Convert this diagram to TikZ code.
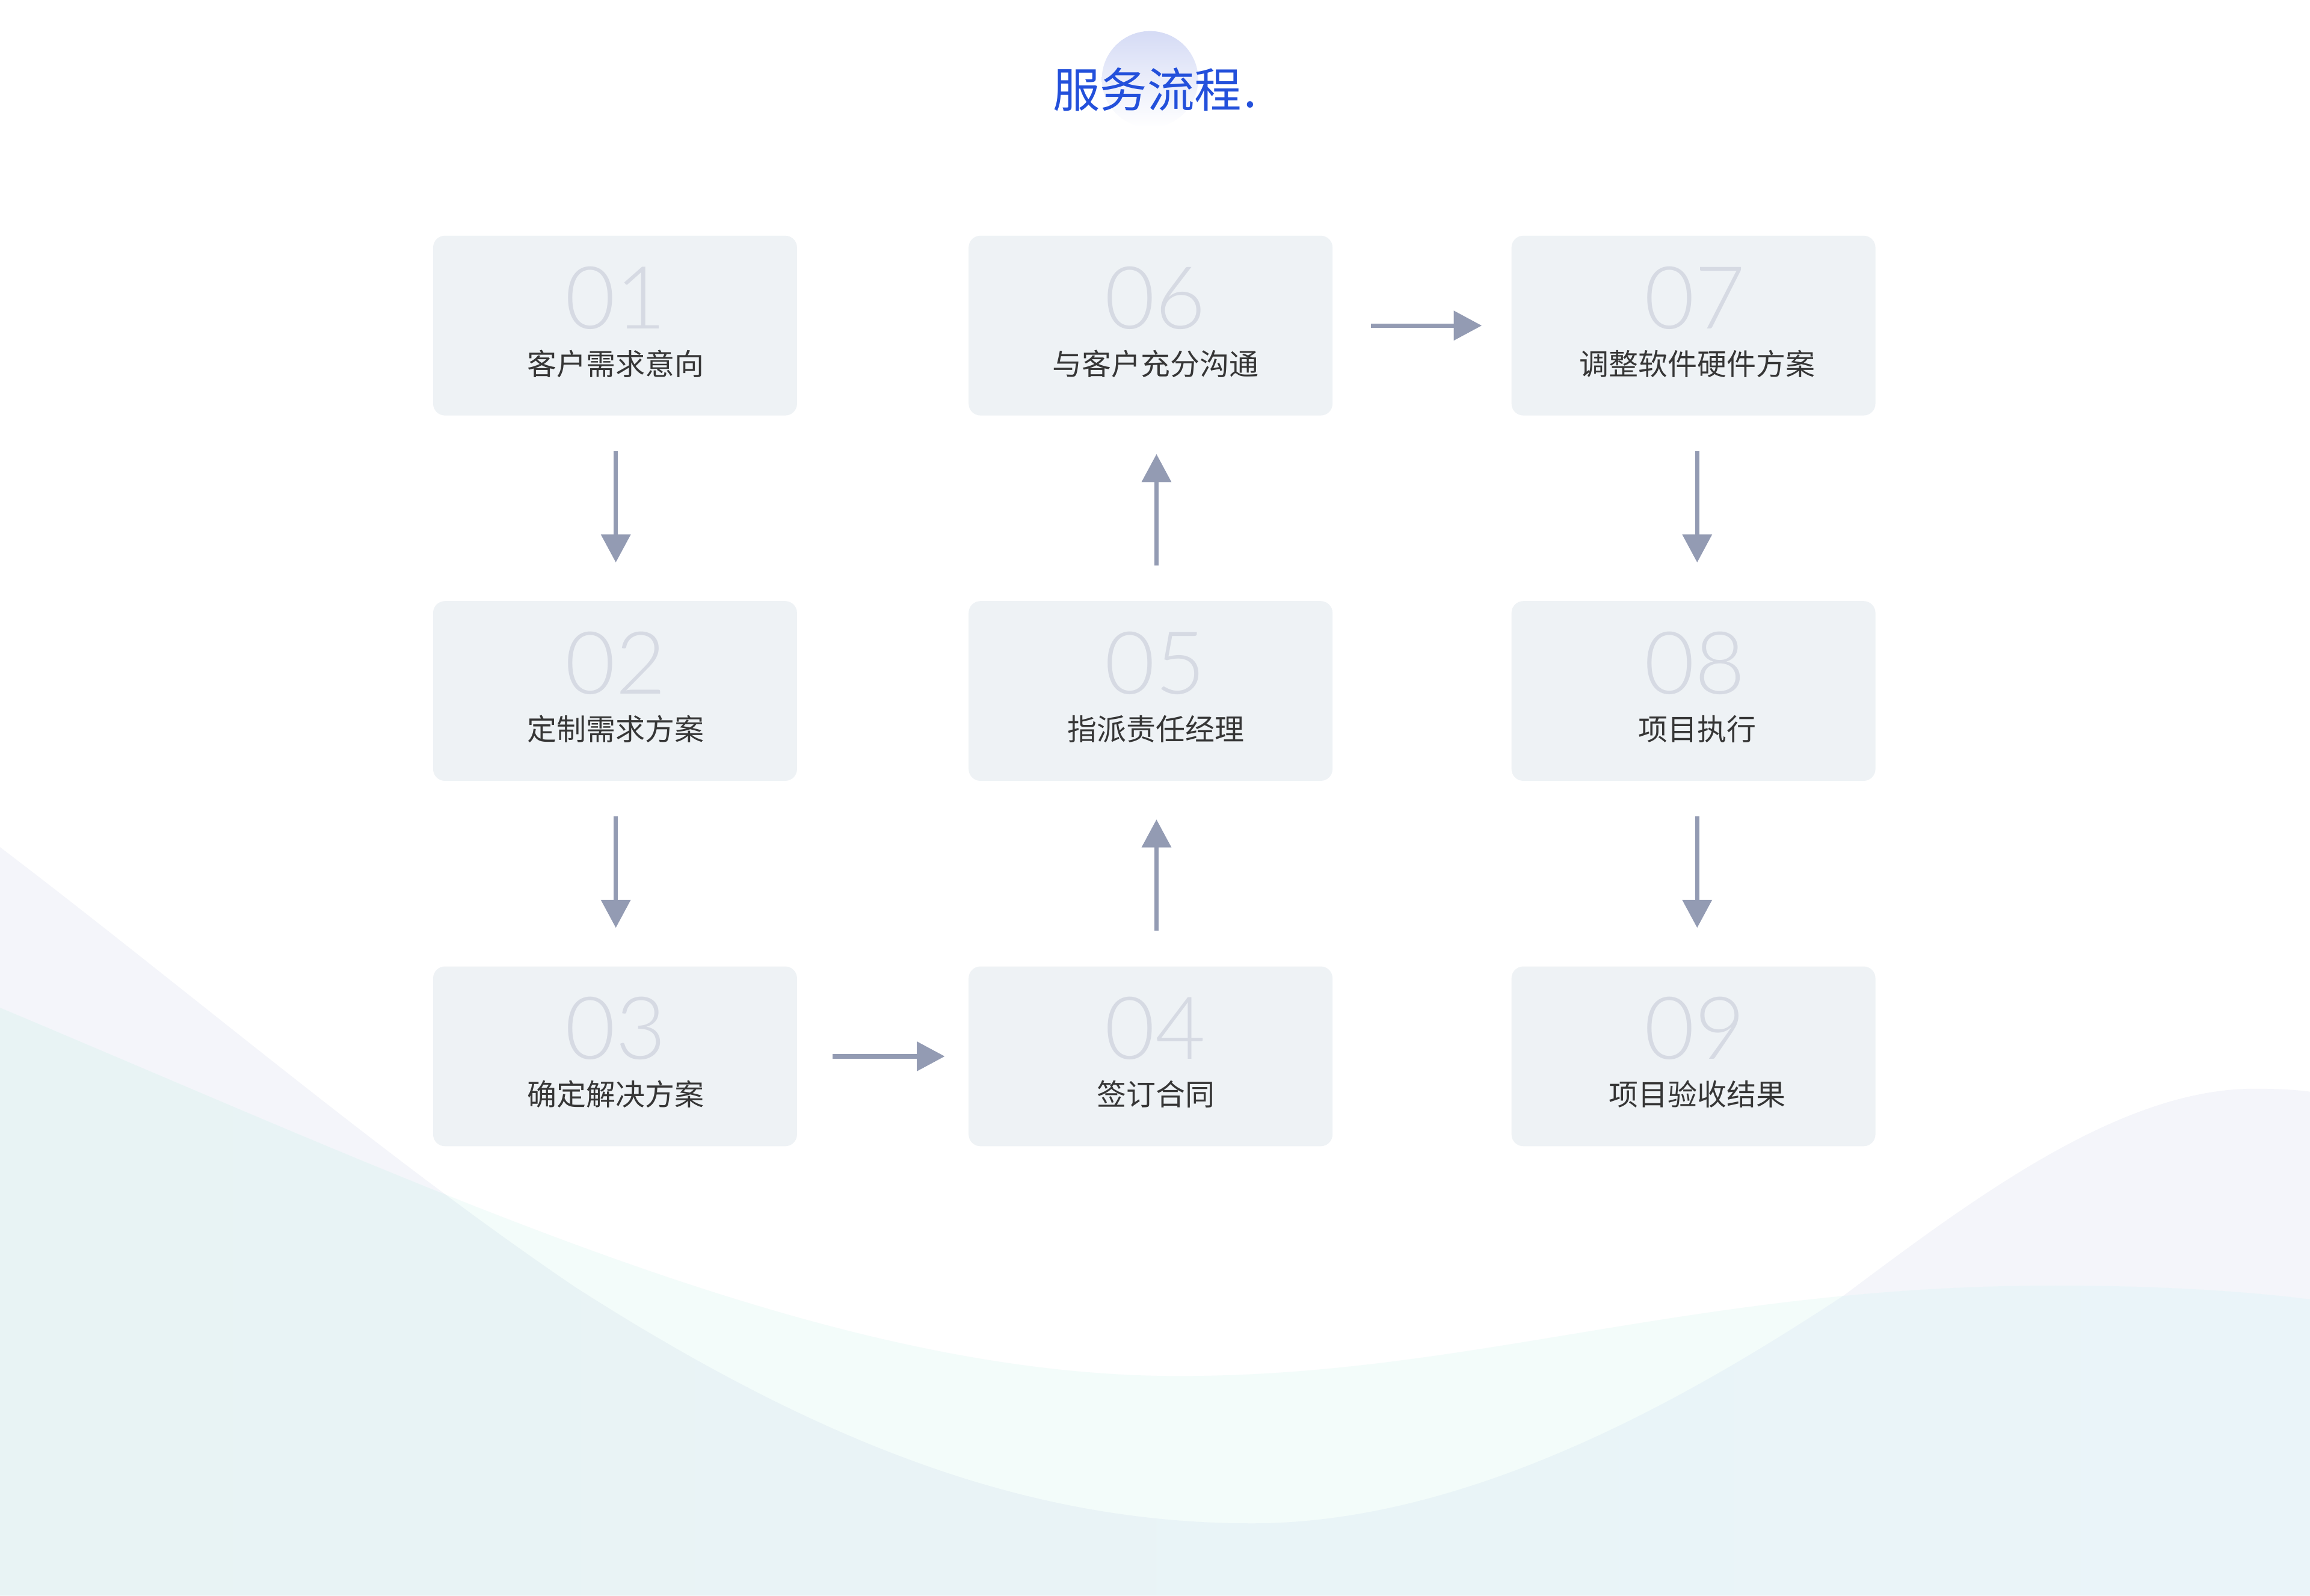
\documentclass[tikz,border=0pt]{standalone}
\usepackage{fontspec}
\setmainfont{Noto Sans CJK SC}
\newfontfamily\cjk{Noto Sans CJK SC}
\newfontfamily\numfont{Lato Light}
\usetikzlibrary{arrows.meta}
\definecolor{boxfill}{HTML}{EEF2F5}
\definecolor{numcol}{HTML}{D6DAE3}
\definecolor{labcol}{HTML}{363636}
\definecolor{arrcol}{HTML}{939BB3}
\definecolor{titlecol}{HTML}{2350DB}
\definecolor{circtop}{HTML}{D5DBF5}
\definecolor{lavcol}{HTML}{F4F5FA}
\definecolor{mintcol}{HTML}{F3FCFA}
\definecolor{overlapL}{HTML}{E8F3F4}
\definecolor{overlapR}{HTML}{EAF4F9}
\begin{document}
\begin{tikzpicture}[x=1pt,y=-1pt,
  stepbox/.style={rectangle, rounded corners=8pt, fill=boxfill, minimum width=247pt, minimum height=122pt, inner sep=0pt},
  numtext/.style={font=\numfont\fontsize{59}{59}\selectfont, text=numcol, inner sep=0pt, anchor=base},
  labtext/.style={font=\cjk\fontsize{20}{20}\selectfont, text=labcol, inner sep=0pt, anchor=base},
  flow/.style={draw=arrcol, line width=3pt, -{Triangle[length=19pt,width=19.5pt]}},
]
\useasboundingbox (0,0) rectangle (1568,1083);
\fill[white] (0,0) rectangle (1568,1083);
% background waves
\fill[lavcol] (0,575) .. controls (130,674) and (261,786) .. (391,874) .. controls (560,982) and (700,1034) .. (850,1034) .. controls (1000,1034) and (1152,945) .. (1252,879) .. controls (1342,811.5) and (1440,739) .. (1530,739) .. controls (1550,739) and (1560,740) .. (1568,741) -- (1568,1083) -- (0,1083) -- cycle;
\fill[mintcol] (0,684) .. controls (300,810) and (560,934) .. (800,934) .. controls (1000,934) and (1150,872.6) .. (1395,872.6) .. controls (1470,872.6) and (1530,877) .. (1568,882) -- (1568,1083) -- (0,1083) -- cycle;
\begin{scope}
\clip (0,575) .. controls (130,674) and (261,786) .. (391,874) .. controls (560,982) and (700,1034) .. (850,1034) .. controls (1000,1034) and (1152,945) .. (1252,879) .. controls (1342,811.5) and (1440,739) .. (1530,739) .. controls (1550,739) and (1560,740) .. (1568,741) -- (1568,1083) -- (0,1083) -- cycle;
\shade[left color=overlapL, right color=overlapR] (0,684) .. controls (300,810) and (560,934) .. (800,934) .. controls (1000,934) and (1150,872.6) .. (1395,872.6) .. controls (1470,872.6) and (1530,877) .. (1568,882) -- (1568,1083) -- (0,1083) -- cycle;
\end{scope}
% title
\node[circle, minimum size=65.4pt, inner sep=0pt, top color=circtop, bottom color=white, draw=none] (titlebg) at (780.6,53.8) {};
\node[font=\cjk\fontsize{32}{32}\selectfont, text=titlecol, anchor=base west, inner sep=0pt] (title) at (714.5,72.7) {服务流程\kern1.5pt.};
% boxes
\node[stepbox] (b01) at (417.5,221) {};
\node[stepbox] (b02) at (417.5,469) {};
\node[stepbox] (b03) at (417.5,717) {};
\node[stepbox] (b04) at (781,717) {};
\node[stepbox] (b05) at (781,469) {};
\node[stepbox] (b06) at (781,221) {};
\node[stepbox] (b07) at (1149.5,221) {};
\node[stepbox] (b08) at (1149.5,469) {};
\node[stepbox] (b09) at (1149.5,717) {};
% numbers
\node[numtext] (n01) at ([xshift=0.5pt,yshift=-2pt]b01.center) {01};
\node[numtext] (n02) at ([xshift=0.5pt,yshift=-2pt]b02.center) {02};
\node[numtext] (n03) at ([xshift=0.5pt,yshift=-2pt]b03.center) {03};
\node[numtext] (n04) at ([xshift=3pt,yshift=-2pt]b04.center) {04};
\node[numtext] (n05) at ([xshift=3pt,yshift=-2pt]b05.center) {05};
\node[numtext] (n06) at ([xshift=3pt,yshift=-2pt]b06.center) {06};
\node[numtext] (n07) at ([xshift=1pt,yshift=-2pt]b07.center) {07};
\node[numtext] (n08) at ([xshift=1pt,yshift=-2pt]b08.center) {08};
\node[numtext] (n09) at ([xshift=1pt,yshift=-2pt]b09.center) {09};
% labels
\node[labtext] (l01) at ([xshift=0.5pt,yshift=-33.5pt]b01.center) {客户需求意向};
\node[labtext] (l02) at ([xshift=0.5pt,yshift=-33.5pt]b02.center) {定制需求方案};
\node[labtext] (l03) at ([xshift=0.5pt,yshift=-33.5pt]b03.center) {确定解决方案};
\node[labtext] (l04) at ([xshift=3.5pt,yshift=-33.5pt]b04.center) {签订合同};
\node[labtext] (l05) at ([xshift=3.5pt,yshift=-33.5pt]b05.center) {指派责任经理};
\node[labtext] (l06) at ([xshift=3.5pt,yshift=-33.5pt]b06.center) {与客户充分沟通};
\node[labtext] (l07) at ([xshift=2.5pt,yshift=-33.5pt]b07.center) {调整软件硬件方案};
\node[labtext] (l08) at ([xshift=2.5pt,yshift=-33.5pt]b08.center) {项目执行};
\node[labtext] (l09) at ([xshift=2.5pt,yshift=-33.5pt]b09.center) {项目验收结果};
% connectors
\draw[flow, shorten <=24pt, shorten >=26pt] ([xshift=0.5pt]b01.south) -- ([xshift=0.5pt]b02.north);
\draw[flow, shorten <=24pt, shorten >=26pt] ([xshift=0.5pt]b02.south) -- ([xshift=0.5pt]b03.north);
\draw[flow, shorten <=24pt, shorten >=16pt] (b03.east) -- (b04.west);
\draw[flow, shorten <=24pt, shorten >=26pt] ([xshift=4pt]b04.north) -- ([xshift=4pt]b05.south);
\draw[flow, shorten <=24pt, shorten >=26pt] ([xshift=4pt]b05.north) -- ([xshift=4pt]b06.south);
\draw[flow, shorten <=26pt, shorten >=20pt] (b06.east) -- (b07.west);
\draw[flow, shorten <=24pt, shorten >=26pt] ([xshift=2.5pt]b07.south) -- ([xshift=2.5pt]b08.north);
\draw[flow, shorten <=24pt, shorten >=26pt] ([xshift=2.5pt]b08.south) -- ([xshift=2.5pt]b09.north);
\end{tikzpicture}
\end{document}
